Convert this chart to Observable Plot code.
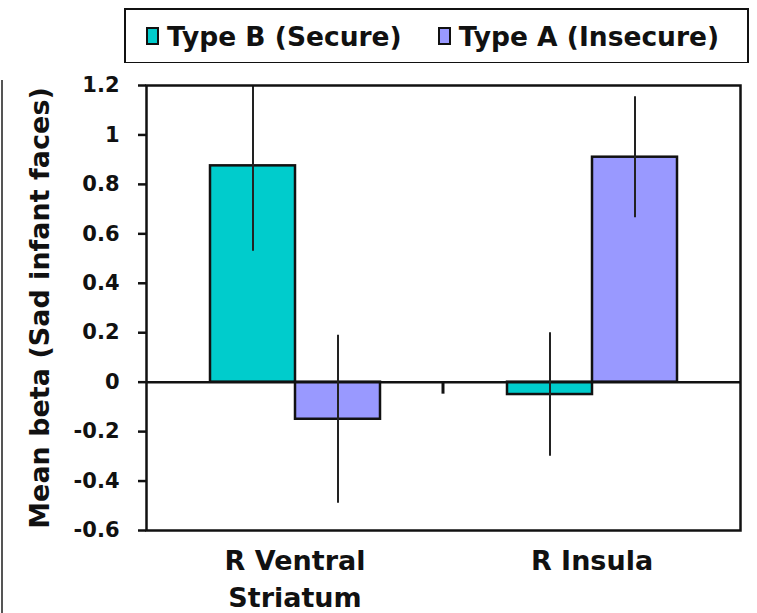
<!DOCTYPE html>
<html><head><meta charset="utf-8">
<script src="https://cdn.jsdelivr.net/npm/d3@7"></script>
<script src="https://cdn.jsdelivr.net/npm/@observablehq/plot@0.6"></script>
<style>
body{margin:0;background:#fff;font-family:"DejaVu Sans",sans-serif;font-weight:bold;}
#wrap{position:relative;width:757px;height:613px;overflow:hidden;background:#fff;}
#legend{position:absolute;left:124px;top:8px;width:625px;height:56px;box-sizing:border-box;border:2.5px solid #111;display:flex;align-items:center;font-size:26.5px;color:#111;white-space:nowrap;}
.item{display:flex;align-items:center;}
.sw{display:inline-block;width:13px;height:18px;border:2.5px solid #111;box-sizing:border-box;margin-right:8px;}
#chart{position:absolute;left:0;top:63px;}
#edge{position:absolute;left:1px;top:80px;width:2px;height:533px;background:#555;}
</style></head>
<body>
<div id="wrap">
  <div id="legend"></div>
  <div id="chart"></div>
  <div id="edge"></div>
</div>
<script>
const regions = ["R Ventral\nStriatum", "R Insula"];
const types = ["Type B (Secure)", "Type A (Insecure)"];
const secureMeans = [0.875, -0.05];
const secureErr = [0.345, 0.25];
const insecureMeans = [-0.15, 0.91];
const insecureErr = [0.34, 0.245];
const yTicks = [-0.6, -0.4, -0.2, 0, 0.2, 0.4, 0.6, 0.8, 1, 1.2];
const colors = ["#00CCCC", "#9999FF"];

const data = regions.flatMap((r, i) => [
  {region: r, type: types[0], mean: secureMeans[i], err: secureErr[i]},
  {region: r, type: types[1], mean: insecureMeans[i], err: insecureErr[i]}
]);

// legend
const legend = document.getElementById("legend");
legend.style.paddingLeft = "20px";
types.forEach((t, i) => {
  const it = document.createElement("span");
  it.className = "item";
  if (i > 0) it.style.marginLeft = "36px";
  const sw = document.createElement("span");
  sw.className = "sw";
  sw.style.background = colors[i];
  it.appendChild(sw);
  it.appendChild(document.createTextNode(t));
  legend.appendChild(it);
});

const plot = Plot.plot({
  width: 757, height: 550,
  marginTop: 22, marginBottom: 83, marginLeft: 145, marginRight: 17,
  style: {fontFamily: "DejaVu Sans, sans-serif", fontWeight: "bold", color: "#111", background: "white", overflow: "visible"},
  fx: {domain: regions, padding: 0, label: null},
  x: {domain: types, paddingInner: 0, paddingOuter: 0.74, axis: null},
  y: {domain: [-0.6, 1.2], label: null},
  color: {domain: types, range: colors},
  marks: [
    Plot.barY(data, {fx: "region", x: "type", y: "mean", fill: "type", stroke: "#111", strokeWidth: 2.5}),
    Plot.ruleY([0], {stroke: "#111", strokeWidth: 2.5}),
    Plot.ruleX(data, {fx: "region", x: "type", y1: d => d.mean - d.err, y2: d => d.mean + d.err, stroke: "#222", strokeWidth: 2, clip: true}),
    Plot.frame({facet: "super", stroke: "#111", strokeWidth: 2.5}),
    Plot.axisY({ticks: yTicks, tickFormat: d => String(d), tickSize: 8, tickPadding: 19, fontSize: 21, strokeWidth: 2.5,
      label: "Mean beta (Sad infant faces)", labelAnchor: "center", labelArrow: "none", labelOffset: 117}),
    Plot.axisFx({anchor: "bottom", tickSize: 0, tickPadding: 13, fontSize: 27, lineHeight: 1.38, label: null})
  ]
});

document.getElementById("chart").appendChild(plot);

// y-axis label size
d3.select(plot).selectAll('[aria-label="y-axis label"] text').attr("font-size", 27).style("font-size", "27px");

// category boundary tick on the zero line
const fx = plot.scale("fx"), y = plot.scale("y");
const bx = fx.apply(regions[1]);
const y0 = y.apply(0);
d3.select(plot).append("line")
  .attr("x1", bx).attr("x2", bx).attr("y1", y0).attr("y2", y0 + 12)
  .attr("stroke", "#111").attr("stroke-width", 3);
</script>
</body></html>
